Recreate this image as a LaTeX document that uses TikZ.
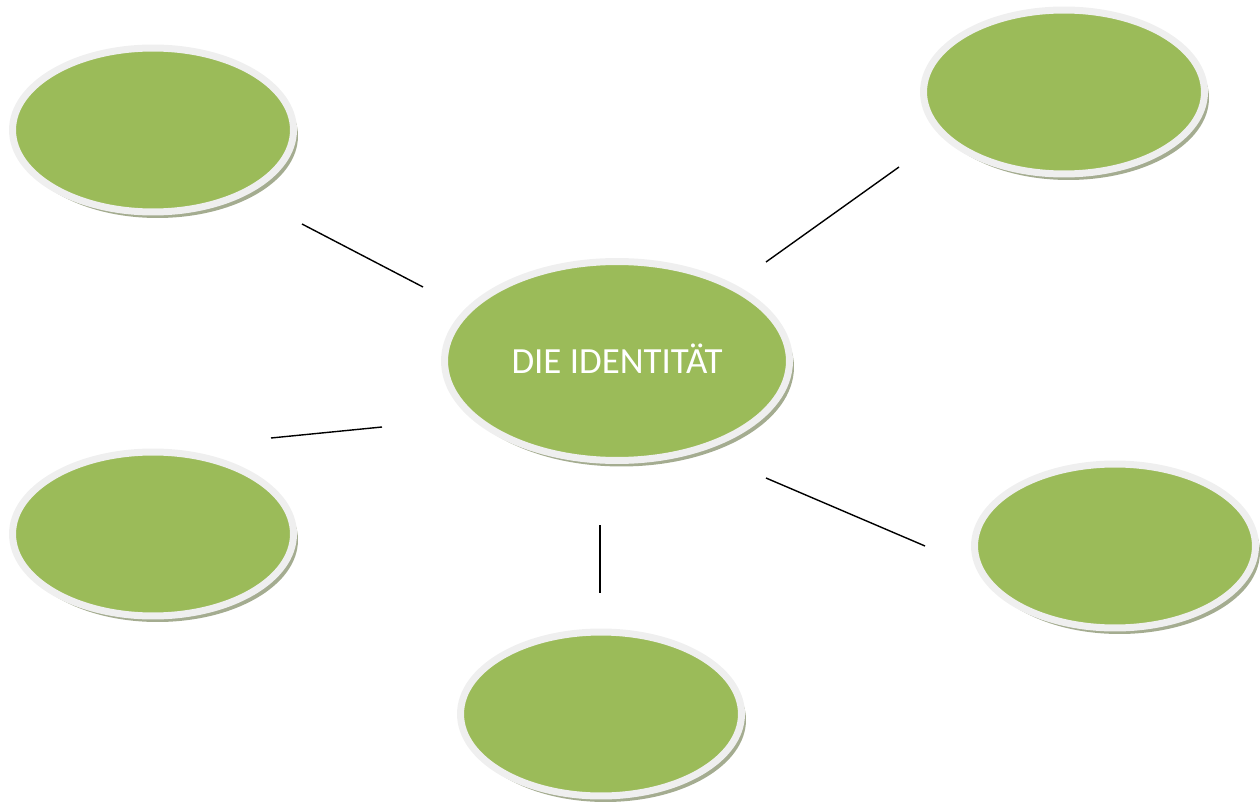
\documentclass[tikz,border=0pt]{standalone}
\usepackage{fontspec}
\newfontfamily\idfont{Carlito}
\usetikzlibrary{shapes.geometric,shadows}
\definecolor{leafgreen}{RGB}{155,187,89}
\definecolor{ringgray}{RGB}{239,239,239}
\definecolor{shadegreen}{RGB}{164,172,144}

\begin{document}
\begin{tikzpicture}[x=0.02cm,y=-0.02cm,
    bubble/.style={ellipse,fill=leafgreen,draw=ringgray,line width=0.14cm,
      minimum width=5.62cm,minimum height=3.28cm,
      drop shadow={shadow xshift=0.09cm,shadow yshift=-0.12cm,fill=shadegreen,opacity=1}},
    core/.style={bubble,minimum width=6.9cm,minimum height=3.98cm},
    spoke/.style={line width=0.8pt,black}]
      \useasboundingbox (0,0) rectangle (1260,807);
      \node[core,text=white,font=\idfont\fontsize{21}{25}\selectfont] (idt) at (617,361) {\raisebox{3pt}{DIE IDENTITÄT}};
      \node[bubble] (tl) at (153,130) {};
      \node[bubble] (tr) at (1064,92) {};
      \node[bubble] (bl) at (153,534) {};
      \node[bubble] (br) at (1115,546) {};
      \node[bubble] (bot) at (601,714) {};
      \coordinate (tl-a) at (423,287);
      \coordinate (tl-b) at (302,224);
      \coordinate (tr-a) at (766,262);
      \coordinate (tr-b) at (899,167);
      \coordinate (bl-a) at (382,427);
      \coordinate (bl-b) at (271,438);
      \coordinate (br-a) at (766,478);
      \coordinate (br-b) at (925,546);
      \coordinate (bot-a) at (600,525);
      \coordinate (bot-b) at (600,593);
      \draw[spoke] (tl-a) -- (tl-b);
      \draw[spoke] (tr-a) -- (tr-b);
      \draw[spoke] (bl-a) -- (bl-b);
      \draw[spoke] (br-a) -- (br-b);
      \draw[spoke] (bot-a) -- (bot-b);
    \end{tikzpicture}
\end{document}
